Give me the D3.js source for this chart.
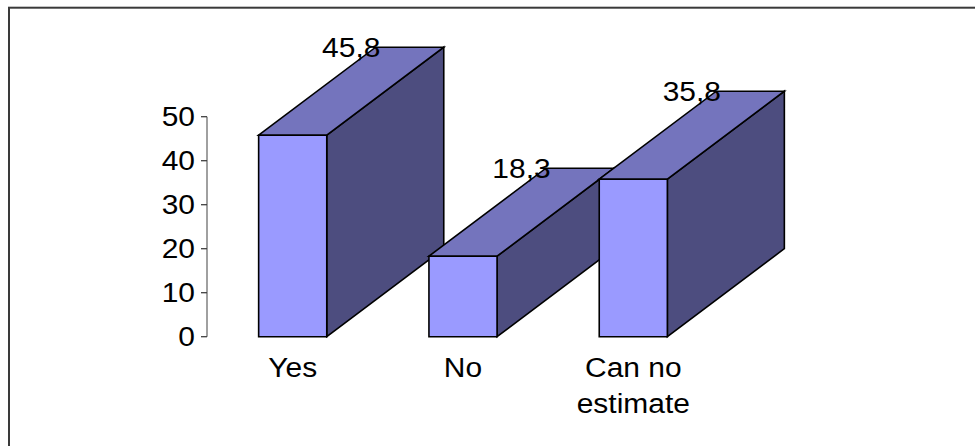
<!DOCTYPE html>
<html>
<head>
<meta charset="utf-8">
<script src="https://cdn.jsdelivr.net/npm/d3@7"></script>
<style>
  html, body { margin: 0; padding: 0; background: #fff; }
  svg { display: block; }
  text { font-family: "Liberation Sans", Arial, sans-serif; fill: #000; }
</style>
</head>
<body>
<svg id="chart" width="975" height="446"></svg>
<script>
// Survey answers and their shares (%)
const categories = ["Yes", "No", "Can no estimate"];
const categoryLines = [["Yes"], ["No"], ["Can no", "estimate"]];
const values = [45.8, 18.3, 35.8];
const valueLabels = ["45,8", "18,3", "35,8"];
const yTicks = [0, 10, 20, 30, 40, 50];

const svg = d3.select("#chart");
const W = 975, H = 446;

// outer frame (right and bottom edges run past the canvas)
svg.append("rect")
  .attr("x", 9).attr("y", 7.7)
  .attr("width", 1100).attr("height", 600)
  .attr("fill", "none").attr("stroke", "#3a3a3a").attr("stroke-width", 2);

const x = d3.scaleBand()
  .domain(categories)
  .range([173.5, 752.5])
  .paddingInner(0.6)
  .paddingOuter(0.5);

const y = d3.scaleLinear().domain([0, 50]).range([336.7, 116.7]);

// 3D extrusion offset of each box
const depthX = 117, depthY = 88;
const fontSize = 28, stretch = 1.07;

function addText(g, tx, ty, str, anchor) {
  g.append("text")
    .attr("transform", `translate(${tx},${ty}) scale(${stretch},1)`)
    .attr("text-anchor", anchor)
    .style("font-size", fontSize + "px")
    .text(str);
}

// value axis
const axisX = 207;
const axisG = svg.append("g");
axisG.append("line")
  .attr("x1", axisX).attr("x2", axisX)
  .attr("y1", y(50)).attr("y2", y(0))
  .attr("stroke", "#808080").attr("stroke-width", 1.5);
yTicks.forEach(t => {
  axisG.append("line")
    .attr("x1", axisX - 6).attr("x2", axisX)
    .attr("y1", y(t)).attr("y2", y(t))
    .attr("stroke", "#404040").attr("stroke-width", 1.3);
  addText(axisG, axisX - 12, y(t) + 9.5, String(t), "end");
});

// boxes, drawn left to right so later ones overlap earlier ones
const bars = svg.append("g");
const stroke = { stroke: "#000", "stroke-width": 1.6, "stroke-linejoin": "miter" };
categories.forEach((c, i) => {
  const x0 = x(c), x1 = x(c) + x.bandwidth();
  const yt = y(values[i]), yb = y(0);
  const g = bars.append("g");
  const poly = (pts, fill) => {
    const p = g.append("polygon")
      .attr("points", pts.map(d => d.join(",")).join(" "))
      .attr("fill", fill);
    Object.entries(stroke).forEach(([k, v]) => p.attr(k, v));
  };
  // side face
  poly([[x1, yt], [x1 + depthX, yt - depthY], [x1 + depthX, yb - depthY], [x1, yb]], "#4d4d7f");
  // top face
  poly([[x0, yt], [x0 + depthX, yt - depthY], [x1 + depthX, yt - depthY], [x1, yt]], "#7474bd");
  // front face
  poly([[x0, yt], [x1, yt], [x1, yb], [x0, yb]], "#9a9aff");
});

// value labels above the back edge of each box
const labels = svg.append("g");
categories.forEach((c, i) => {
  const cx = x(c) + x.bandwidth() / 2 + depthX / 2;
  addText(labels, cx, y(values[i]) - depthY + 10, valueLabels[i], "middle");
});

// category labels
const cats = svg.append("g");
categories.forEach((c, i) => {
  const cx = x(c) + x.bandwidth() / 2;
  categoryLines[i].forEach((ln, j) => {
    addText(cats, cx, 376.7 + j * 36.6, ln, "middle");
  });
});
</script>
</body>
</html>
